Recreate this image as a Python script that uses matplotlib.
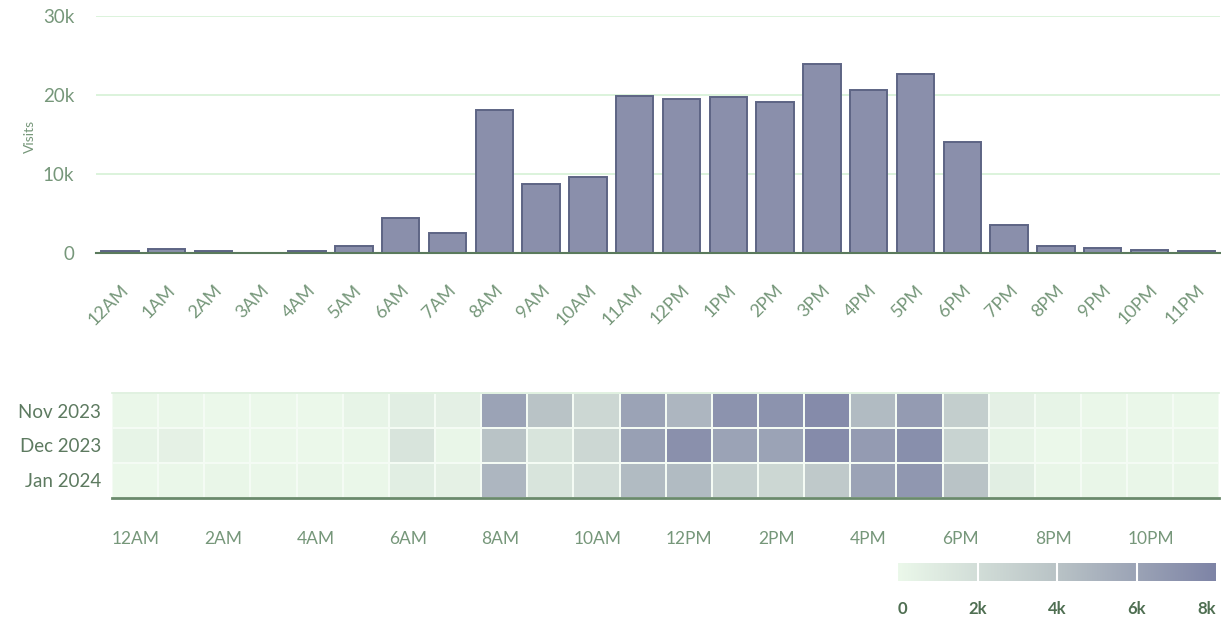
import matplotlib
matplotlib.use("Agg")
import matplotlib.pyplot as plt
import numpy as np
from matplotlib.colors import LinearSegmentedColormap

plt.rcParams['font.family'] = ['Lato', 'DejaVu Sans']

hours = ["12AM", "1AM", "2AM", "3AM", "4AM", "5AM", "6AM", "7AM", "8AM", "9AM", "10AM", "11AM",
         "12PM", "1PM", "2PM", "3PM", "4PM", "5PM", "6PM", "7PM", "8PM", "9PM", "10PM", "11PM"]
visits = [300, 500, 200, 0, 200, 900, 4400, 2500, 18100, 8700, 9600, 19900,
          19500, 19700, 19100, 23900, 20600, 22600, 14100, 3500, 900, 650, 400, 250]

months = ["Nov 2023", "Dec 2023", "Jan 2024"]
nov = [100, 100, 50, 50, 50, 300, 800, 600, 6000, 4000, 2500, 6000,
       4800, 7000, 7000, 7500, 4500, 6500, 3200, 600, 300, 100, 100, 50]
dec = [300, 500, 50, 50, 50, 100, 1500, 200, 4000, 1500, 2500, 6200,
       7200, 6000, 6000, 7500, 6500, 7300, 2800, 300, 50, 200, 100, 100]
jan = [50, 100, 200, 100, 200, 100, 800, 500, 4800, 1500, 2000, 4500,
       4500, 3000, 2500, 3500, 6000, 6800, 4000, 800, 200, 200, 200, 200]
heat_ticks = ["12AM", "2AM", "4AM", "6AM", "8AM", "10AM", "12PM", "2PM", "4PM", "6PM", "8PM", "10PM"]
cbar_ticks = [0, 2000, 4000, 6000, 8000]
cbar_labels = ["0", "2k", "4k", "6k", "8k"]
ytick_vals = [0, 10000, 20000, 30000]
ytick_labels = ["0", "10k", "20k", "30k"]

txt = "#76977a"
dark_txt = "#4f6f52"
cmap = LinearSegmentedColormap.from_list("gp", ["#ebf8ea", "#b9c3c6", "#7e84a6"])

fig = plt.figure(figsize=(12.21, 6.17), dpi=100)

# ---- bar chart ----
ax = fig.add_axes([0.079, 0.590, 0.920, 0.384])
x = np.arange(len(hours))
ax.bar(x, visits, width=0.8, color="#8a8fab", edgecolor="#5d6484", linewidth=1.4, zorder=3)
ax.set_xlim(-0.5, len(hours) - 0.5)
ax.set_ylim(0, 30000)
ax.set_yticks(ytick_vals)
ax.set_yticklabels(ytick_labels)
ax.grid(axis="y", color="#d9f2d9", linewidth=1.3, zorder=0)
ax.set_xticks(x)
ax.set_xticklabels(hours, rotation=45, ha="right", rotation_mode="anchor")
ax.tick_params(axis="x", length=0, pad=21, labelsize=13, labelcolor=txt)
ax.tick_params(axis="y", length=0, pad=16, labelsize=13.5, labelcolor=txt)
for s in ["top", "right", "left"]:
    ax.spines[s].set_visible(False)
ax.spines["bottom"].set_color("#5a7a5c")
ax.spines["bottom"].set_linewidth(1.5)
ax.spines["bottom"].set_zorder(4)
ax.set_ylabel("Visits", color=txt, fontsize=10)
ax.yaxis.set_label_coords(-0.054, 0.49)

# ---- heatmap ----
hx = fig.add_axes([0.0917, 0.193, 0.907, 0.170])
data = np.array([nov, dec, jan])
hx.pcolormesh(np.arange(25), np.arange(4), data, cmap=cmap, vmin=0, vmax=8000,
              edgecolors="#f4fbf4", linewidth=1.2)
hx.set_xlim(0, 24)
hx.set_ylim(3, 0)
hx.set_yticks(np.arange(3) + 0.5)
hx.set_yticklabels(months)
hx.set_xticks(np.arange(0, 24, 2))
hx.set_xticklabels(heat_ticks, ha="left")
hx.tick_params(axis="y", length=0, pad=8, labelsize=13.5, labelcolor="#5d7a60")
hx.tick_params(axis="x", length=0, pad=24, labelsize=12.5, labelcolor=txt)
for s in ["left", "right"]:
    hx.spines[s].set_visible(False)
hx.spines["top"].set_color("#dcefdc")
hx.spines["top"].set_linewidth(1.2)
hx.spines["bottom"].set_color("#6a8a6c")
hx.spines["bottom"].set_linewidth(2)

# ---- colorbar legend ----
cx = fig.add_axes([0.7355, 0.058, 0.2604, 0.030])
grad = np.linspace(0, 8000, 256).reshape(1, -1)
cx.imshow(grad, aspect="auto", cmap=cmap, vmin=0, vmax=8000, extent=[0, 8000, 0, 1])
for v in cbar_ticks[1:-1]:
    cx.axvline(v, color="white", linewidth=1.5)
cx.set_xlim(0, 8000)
cx.set_yticks([])
cx.set_xticks(cbar_ticks)
cx.set_xticklabels(cbar_labels)
cx.tick_params(axis="x", length=0, pad=14, labelsize=12, labelcolor=dark_txt)
for lbl in cx.get_xticklabels():
    lbl.set_fontweight("bold")
cx.get_xticklabels()[0].set_ha("left")
cx.get_xticklabels()[-1].set_ha("right")
for s in cx.spines.values():
    s.set_visible(False)

fig.savefig("out.png", dpi=100, facecolor="white")
